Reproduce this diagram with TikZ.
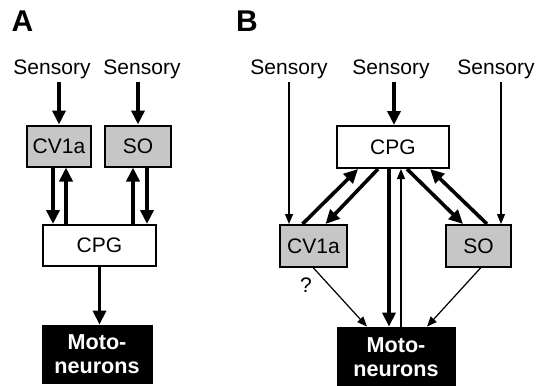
\documentclass[tikz,border=0pt]{standalone}
\usepackage{fontspec}
\setmainfont{Liberation Sans}
\usetikzlibrary{arrows.meta}

\begin{document}
\begin{tikzpicture}[x=0.5pt, y=-0.5pt, font=\fontsize{10.5}{12.5}\selectfont]
\tikzstyle{lbl}=[draw=none, fill=none, inner sep=1.5pt]
\tikzstyle{panel}=[draw=none, inner sep=0pt, font=\fontsize{15}{16}\selectfont\bfseries]
\tikzstyle{cell}=[draw, line width=1pt, fill=gray!45, inner sep=0pt, minimum height=20.5pt]
\tikzstyle{cpg}=[draw, line width=1pt, fill=white, inner sep=0pt, minimum height=20.5pt]
\tikzstyle{mn}=[draw, fill=black, text=white, align=center, inner sep=0pt, font=\fontsize{10.8}{12}\selectfont\bfseries]
\tikzstyle{fat}=[line width=1.8pt, -{Triangle[length=7pt,width=6.5pt]}]
\tikzstyle{slim}=[line width=0.6pt, -{Triangle[length=5pt,width=4pt]}]

\useasboundingbox (0,0) rectangle (537,386);

% panel A
\node[panel] (A) at (22.5,21) {A};
\node[lbl] (SA1) at (52,69) {Sensory};
\node[lbl] (SA2) at (142,69) {Sensory};
\node[cell, minimum width=32pt] (CVA) at (59,146) {CV1a};
\node[cell, minimum width=33pt] (SOA) at (138,146) {SO};
\node[cpg, minimum width=56.5pt] (CPGA) at (99.5,245.5) {CPG};
\node[mn, minimum width=55pt, minimum height=29pt] (MNA) at (97,354) {Moto-\\neurons};

\draw[fat] (SA1.south -| CVA.north) -- (CVA.north);
\draw[fat] (SA2.south -| SOA.north) -- (SOA.north);
\draw[fat] ([xshift=-3pt]CVA.south) -- ([xshift=-3pt]CVA.south |- CPGA.north);
\draw[fat] ([xshift=3.5pt]CVA.south |- CPGA.north) -- ([xshift=3.5pt]CVA.south);
\draw[fat] ([xshift=-2.5pt]SOA.south |- CPGA.north) -- ([xshift=-2.5pt]SOA.south);
\draw[fat] ([xshift=4.5pt]SOA.south) -- ([xshift=4.5pt]SOA.south |- CPGA.north);
\draw[fat] (CPGA.south) -- (CPGA.south |- MNA.north);

% panel B
\node[panel] (B) at (247,21) {B};
\node[lbl] (SB1) at (289,69) {Sensory};
\node[lbl] (SB2) at (391,69) {Sensory};
\node[lbl] (SB3) at (496,69) {Sensory};
\node[cpg, minimum width=56pt, minimum height=21pt] (CPGB) at (393,147) {CPG};
\node[cell, minimum width=33.5pt, minimum height=21pt] (CVB) at (313.5,246) {CV1a};
\node[cell, minimum width=32.5pt, minimum height=21pt] (SOB) at (478.5,246) {SO};
\node[mn, minimum width=59pt, minimum height=30pt] (MNB) at (396,357) {Moto-\\neurons};
\node[lbl] (Q) at (306,285) {?};

\draw[slim] (SB1.south) -- (SB1.south |- CVB.north);
\draw[fat] ([xshift=1.5pt]SB2.south) -- ([xshift=1.5pt]SB2.south |- CPGB.north);
\draw[slim] ([xshift=2.5pt]SB3.south) -- ([xshift=2.5pt]SB3.south |- SOB.north);

\draw[fat] ([xshift=-5.5pt]CVB.north) -- ([xshift=-17.5pt]CPGB.south);
\draw[fat] ([xshift=-7.5pt]CPGB.south) -- ([xshift=6pt]CVB.north);
\draw[fat] ([xshift=7pt]CPGB.south) -- ([xshift=-7.75pt]SOB.north);
\draw[fat] ([xshift=4.25pt]SOB.north) -- ([xshift=18.5pt]CPGB.south);

\draw[fat] ([xshift=-2pt]CPGB.south) -- ([xshift=-2pt]CPGB.south |- MNB.north);
\draw[slim] ([xshift=4pt]CPGB.south |- MNB.north) -- ([xshift=4pt]CPGB.south);
\draw[slim] (CVB.south) -- ([xshift=-14.5pt]MNB.north);
\draw[slim] ([xshift=1pt]SOB.south) -- ([xshift=15.5pt]MNB.north);
\end{tikzpicture}
\end{document}
